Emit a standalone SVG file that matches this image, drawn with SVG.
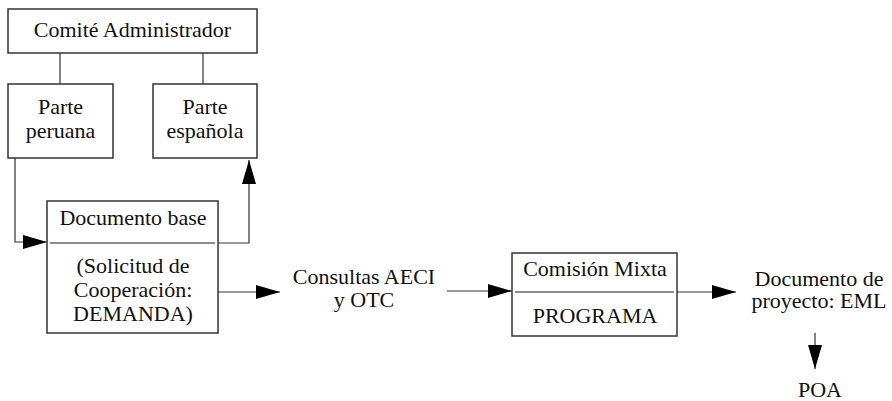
<svg xmlns="http://www.w3.org/2000/svg" width="892" height="401" viewBox="0 0 892 401">
<style>
.box{fill:#fff;stroke:#333;stroke-width:1.5}
.sep{stroke:#666;stroke-width:1.5}
.ln{fill:none;stroke:#333;stroke-width:1.2}
text{font-family:"Liberation Serif","Times New Roman",serif;font-size:22px;fill:#111;text-anchor:middle}
</style>
<defs>
<marker id="arr" viewBox="0 0 24 14" refX="24" refY="7" markerWidth="24" markerHeight="14" markerUnits="userSpaceOnUse" orient="auto">
<path d="M0,0 L24,7 L0,14 Z" fill="#000"/>
</marker>
</defs>
<g id="connectors">
<path class="ln" d="M60,53 V84"/>
<path class="ln" d="M203,53 V84"/>
<path class="ln" d="M15,158 V242 H47" marker-end="url(#arr)"/>
<path class="ln" d="M218,243 H249 V160" marker-end="url(#arr)"/>
<path class="ln" d="M218,292 H280" marker-end="url(#arr)"/>
<path class="ln" d="M447,291 H512" marker-end="url(#arr)"/>
<path class="ln" d="M677,292 H736" marker-end="url(#arr)"/>
<path class="ln" d="M815,333 V369" marker-end="url(#arr)"/>
</g>
<g id="comite">
<rect class="box" x="8" y="9" width="249" height="44"/>
<text x="132.5" y="37">Comité Administrador</text>
</g>
<g id="parte-peruana">
<rect class="box" x="8" y="84" width="105" height="74"/>
<text x="60.5" y="114">Parte</text>
<text x="60.5" y="138">peruana</text>
</g>
<g id="parte-espanola">
<rect class="box" x="153" y="84" width="104" height="74"/>
<text x="205" y="114">Parte</text>
<text x="205" y="138">española</text>
</g>
<g id="documento-base">
<rect class="box" x="47" y="201" width="171" height="132"/>
<line class="sep" x1="50" y1="243" x2="215" y2="243"/>
<text x="133" y="225">Documento base</text>
<text x="133" y="273">(Solicitud de</text>
<text x="133" y="297">Cooperación:</text>
<text x="133" y="321">DEMANDA)</text>
</g>
<g id="consultas">
<text x="364" y="284">Consultas AECI</text>
<text x="364" y="307">y OTC</text>
</g>
<g id="comision">
<rect class="box" x="512" y="253" width="165" height="83"/>
<line class="sep" x1="515" y1="292" x2="674" y2="292"/>
<text x="595" y="276">Comisión Mixta</text>
<text x="595" y="323">PROGRAMA</text>
</g>
<g id="documento-proyecto">
<text x="819" y="286">Documento de</text>
<text x="819" y="308">proyecto: EML</text>
</g>
<g id="poa">
<text x="820" y="397">POA</text>
</g>
</svg>
